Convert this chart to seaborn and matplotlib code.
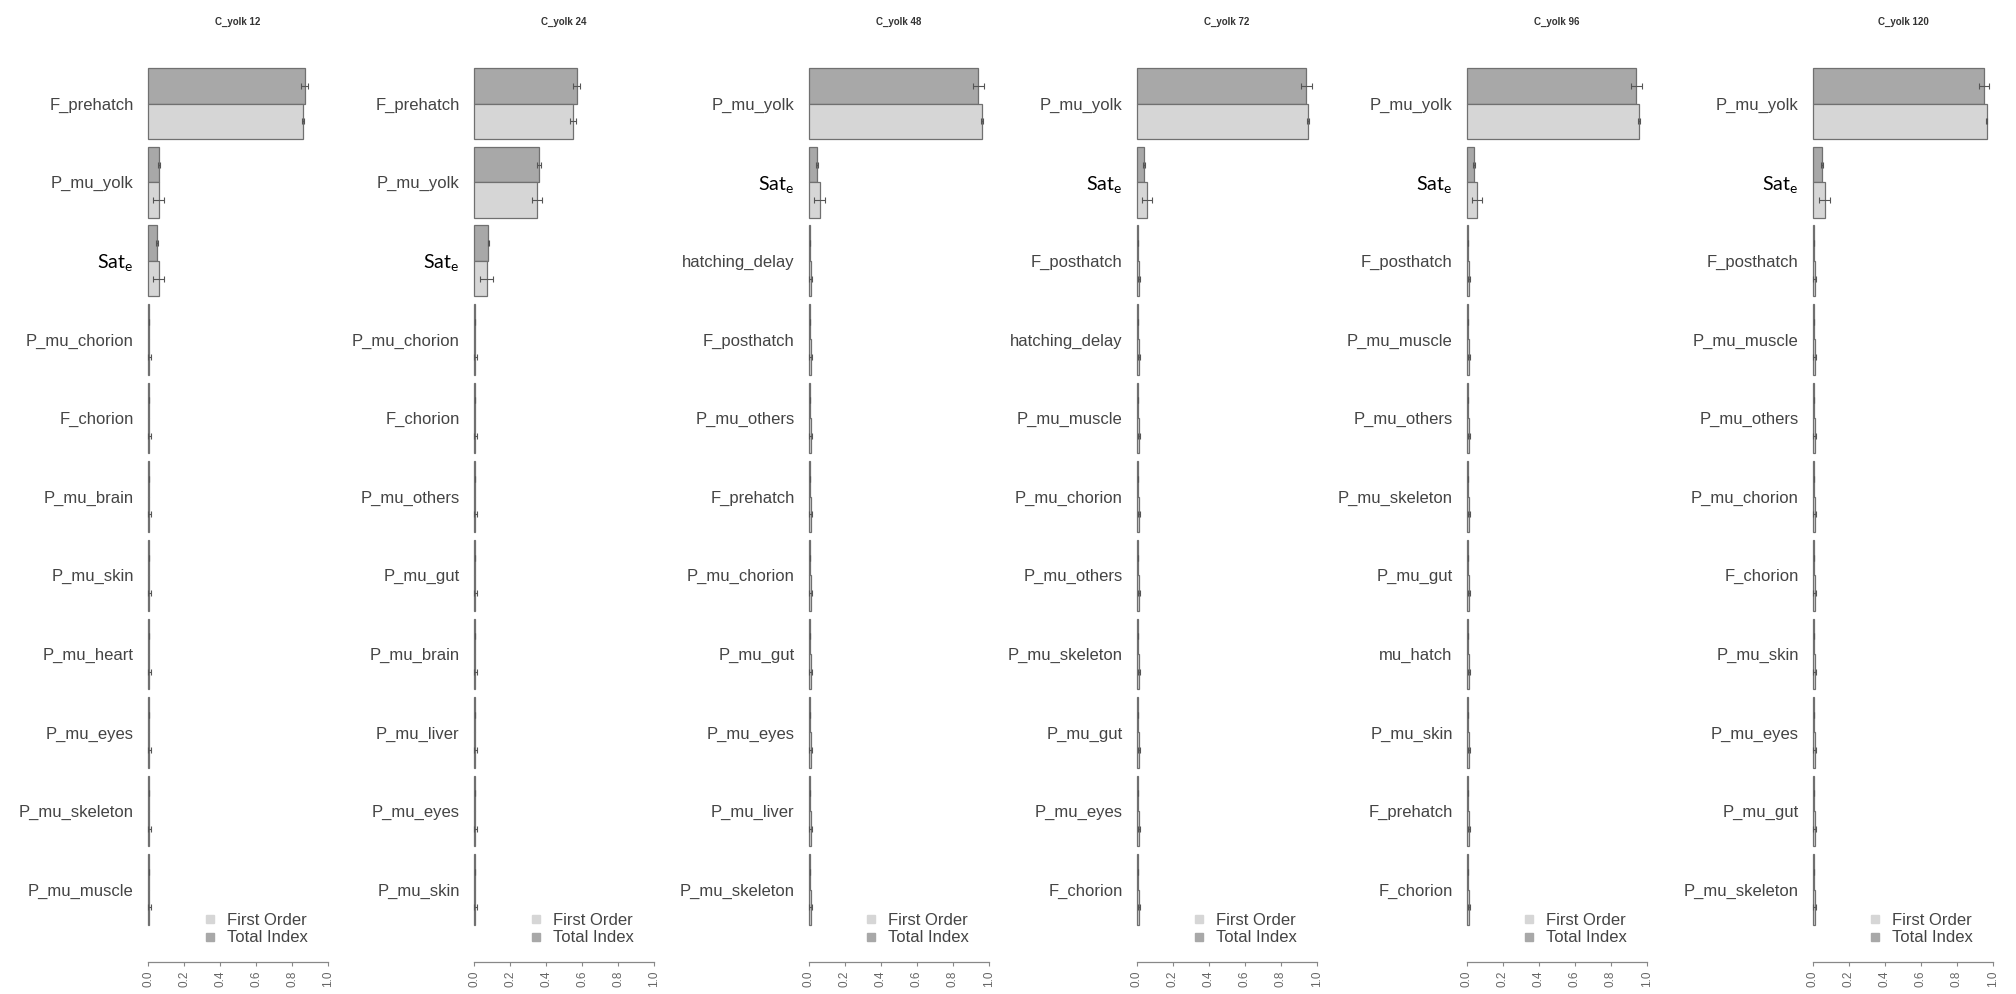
import numpy as np
import pandas as pd
import seaborn as sns
import matplotlib.pyplot as plt
from matplotlib.lines import Line2D

SAT = "Sat$_\\mathregular{e}$"

# one panel per C_yolk time point; rows ordered top to bottom
titles = ["C_yolk 12", "C_yolk 24", "C_yolk 48", "C_yolk 72", "C_yolk 96", "C_yolk 120"]

labels_12 = ["F_prehatch", "P_mu_yolk", SAT, "P_mu_chorion", "F_chorion", "P_mu_brain",
             "P_mu_skin", "P_mu_heart", "P_mu_eyes", "P_mu_skeleton", "P_mu_muscle"]
labels_24 = ["F_prehatch", "P_mu_yolk", SAT, "P_mu_chorion", "F_chorion", "P_mu_others",
             "P_mu_gut", "P_mu_brain", "P_mu_liver", "P_mu_eyes", "P_mu_skin"]
labels_48 = ["P_mu_yolk", SAT, "hatching_delay", "F_posthatch", "P_mu_others", "F_prehatch",
             "P_mu_chorion", "P_mu_gut", "P_mu_eyes", "P_mu_liver", "P_mu_skeleton"]
labels_72 = ["P_mu_yolk", SAT, "F_posthatch", "hatching_delay", "P_mu_muscle", "P_mu_chorion",
             "P_mu_others", "P_mu_skeleton", "P_mu_gut", "P_mu_eyes", "F_chorion"]
labels_96 = ["P_mu_yolk", SAT, "F_posthatch", "P_mu_muscle", "P_mu_others", "P_mu_skeleton",
             "P_mu_gut", "mu_hatch", "P_mu_skin", "F_prehatch", "F_chorion"]
labels_120 = ["P_mu_yolk", SAT, "F_posthatch", "P_mu_muscle", "P_mu_others", "P_mu_chorion",
              "F_chorion", "P_mu_skin", "P_mu_eyes", "P_mu_gut", "P_mu_skeleton"]

total_12 = [0.87, 0.06, 0.05, 0.004, 0.004, 0.004, 0.004, 0.004, 0.004, 0.004, 0.004]
first_12 = [0.86, 0.06, 0.06, 0.008, 0.008, 0.008, 0.008, 0.008, 0.008, 0.008, 0.008]
total_err_12 = [0.02, 0.004, 0.004, 0, 0, 0, 0, 0, 0, 0, 0]
first_err_12 = [0.004, 0.03, 0.03, 0.008, 0.008, 0.008, 0.008, 0.008, 0.008, 0.008, 0.008]

total_24 = [0.57, 0.36, 0.08, 0.005, 0.004, 0.004, 0.004, 0.004, 0.004, 0.004, 0.004]
first_24 = [0.55, 0.35, 0.07, 0.008, 0.008, 0.008, 0.008, 0.008, 0.008, 0.008, 0.008]
total_err_24 = [0.02, 0.01, 0.004, 0, 0, 0, 0, 0, 0, 0, 0]
first_err_24 = [0.015, 0.03, 0.035, 0.006, 0.006, 0.006, 0.006, 0.006, 0.006, 0.006, 0.006]

total_48 = [0.94, 0.045, 0.004, 0.004, 0.004, 0.004, 0.004, 0.004, 0.004, 0.004, 0.004]
first_48 = [0.96, 0.06, 0.01, 0.01, 0.01, 0.01, 0.01, 0.01, 0.01, 0.01, 0.01]
total_err_48 = [0.03, 0.004, 0, 0, 0, 0, 0, 0, 0, 0, 0]
first_err_48 = [0.004, 0.03, 0.008, 0.008, 0.008, 0.008, 0.008, 0.008, 0.008, 0.008, 0.008]

total_72 = [0.94, 0.04, 0.004, 0.004, 0.004, 0.004, 0.004, 0.004, 0.004, 0.004, 0.004]
first_72 = [0.95, 0.055, 0.01, 0.01, 0.01, 0.01, 0.01, 0.01, 0.01, 0.01, 0.01]
total_err_72 = [0.03, 0.004, 0, 0, 0, 0, 0, 0, 0, 0, 0]
first_err_72 = [0.004, 0.03, 0.006, 0.006, 0.006, 0.006, 0.006, 0.006, 0.006, 0.006, 0.006]

total_96 = [0.94, 0.04, 0.004, 0.004, 0.004, 0.004, 0.004, 0.004, 0.004, 0.004, 0.004]
first_96 = [0.955, 0.055, 0.01, 0.01, 0.01, 0.01, 0.01, 0.01, 0.01, 0.01, 0.01]
total_err_96 = [0.03, 0.004, 0, 0, 0, 0, 0, 0, 0, 0, 0]
first_err_96 = [0.004, 0.03, 0.006, 0.006, 0.006, 0.006, 0.006, 0.006, 0.006, 0.006, 0.006]

total_120 = [0.95, 0.05, 0.004, 0.004, 0.004, 0.004, 0.004, 0.004, 0.004, 0.004, 0.004]
first_120 = [0.965, 0.065, 0.01, 0.01, 0.01, 0.01, 0.01, 0.01, 0.01, 0.01, 0.01]
total_err_120 = [0.03, 0.004, 0, 0, 0, 0, 0, 0, 0, 0, 0]
first_err_120 = [0.004, 0.03, 0.008, 0.008, 0.008, 0.008, 0.008, 0.008, 0.008, 0.008, 0.008]

panels = [
    (labels_12, total_12, first_12, total_err_12, first_err_12),
    (labels_24, total_24, first_24, total_err_24, first_err_24),
    (labels_48, total_48, first_48, total_err_48, first_err_48),
    (labels_72, total_72, first_72, total_err_72, first_err_72),
    (labels_96, total_96, first_96, total_err_96, first_err_96),
    (labels_120, total_120, first_120, total_err_120, first_err_120),
]

# pixel x of value 0 for each panel
x0_px = [148, 474, 809, 1137, 1467, 1813]

sns.set_style("white")
plt.rcParams["font.family"] = ["Liberation Sans", "DejaVu Sans"]

W, H = 2016, 994
fig = plt.figure(figsize=(W / 100, H / 100), dpi=100)

c_total = "#a8a8a8"
c_first = "#d6d6d6"
c_edge = "#707070"

for title, x0, (labels, total, first, terr, ferr) in zip(titles, x0_px, panels):
    ax = fig.add_axes([(x0 - 1.8) / W, 1 - 962 / H, 183.6 / W, 900 / H])

    df = pd.DataFrame({
        "param": labels * 2,
        "value": total + first,
        "kind": ["Total Index"] * len(labels) + ["First Order"] * len(labels),
    })
    sns.barplot(data=df, x="value", y="param", hue="kind", order=labels,
                hue_order=["Total Index", "First Order"],
                palette={"Total Index": c_total, "First Order": c_first},
                width=0.9, edgecolor=c_edge, linewidth=0.9, errorbar=None,
                legend=False, ax=ax)

    rows = np.arange(len(labels))
    ax.errorbar(total, rows - 0.225, xerr=terr, fmt="none", ecolor="#555555",
                elinewidth=0.8, capsize=2, capthick=0.8)
    ax.errorbar(first, rows + 0.225, xerr=ferr, fmt="none", ecolor="#555555",
                elinewidth=0.8, capsize=2, capthick=0.8)

    ax.set_xlim(-0.01, 1.01)
    ax.set_ylim(10.92, -0.53)
    ax.set_xlabel("")
    ax.set_ylabel("")

    for s in ["left", "top", "right"]:
        ax.spines[s].set_visible(False)
    ax.spines["bottom"].set_bounds(0, 1)
    ax.spines["bottom"].set_color("#888888")
    ax.spines["bottom"].set_linewidth(0.9)

    ax.set_xticks(np.arange(0, 1.01, 0.2))
    ax.set_xticklabels([f"{v:.1f}" for v in np.arange(0, 1.01, 0.2)], rotation=90)
    ax.tick_params(axis="x", bottom=True, length=3, width=0.8, color="#888888",
                   labelsize=8.5, labelcolor="#666666", pad=3)
    ax.tick_params(axis="y", left=False, length=0, labelsize=12,
                   labelcolor="#444444", pad=9)

    for t in ax.get_yticklabels():
        if t.get_text() == SAT:
            t.set_fontfamily("Lato")
            t.set_fontsize(14)
            t.set_color("black")

    ax.set_title(title, fontsize=7, fontweight="bold", color="#333333", pad=27)

    handles = [
        Line2D([], [], marker="s", linestyle="none", markersize=6,
               markerfacecolor=c_first, markeredgecolor=c_first),
        Line2D([], [], marker="s", linestyle="none", markersize=6,
               markerfacecolor=c_total, markeredgecolor=c_total),
    ]
    leg = ax.legend(handles, ["First Order", "Total Index"], loc="lower right",
                    bbox_to_anchor=(0.97, 0.0), frameon=False, fontsize=12,
                    handlelength=0.8, handletextpad=0.6, labelspacing=0.15,
                    borderaxespad=0.6)
    for t in leg.get_texts():
        t.set_color("#444444")

fig.savefig("out.png", dpi=100, facecolor="white")
